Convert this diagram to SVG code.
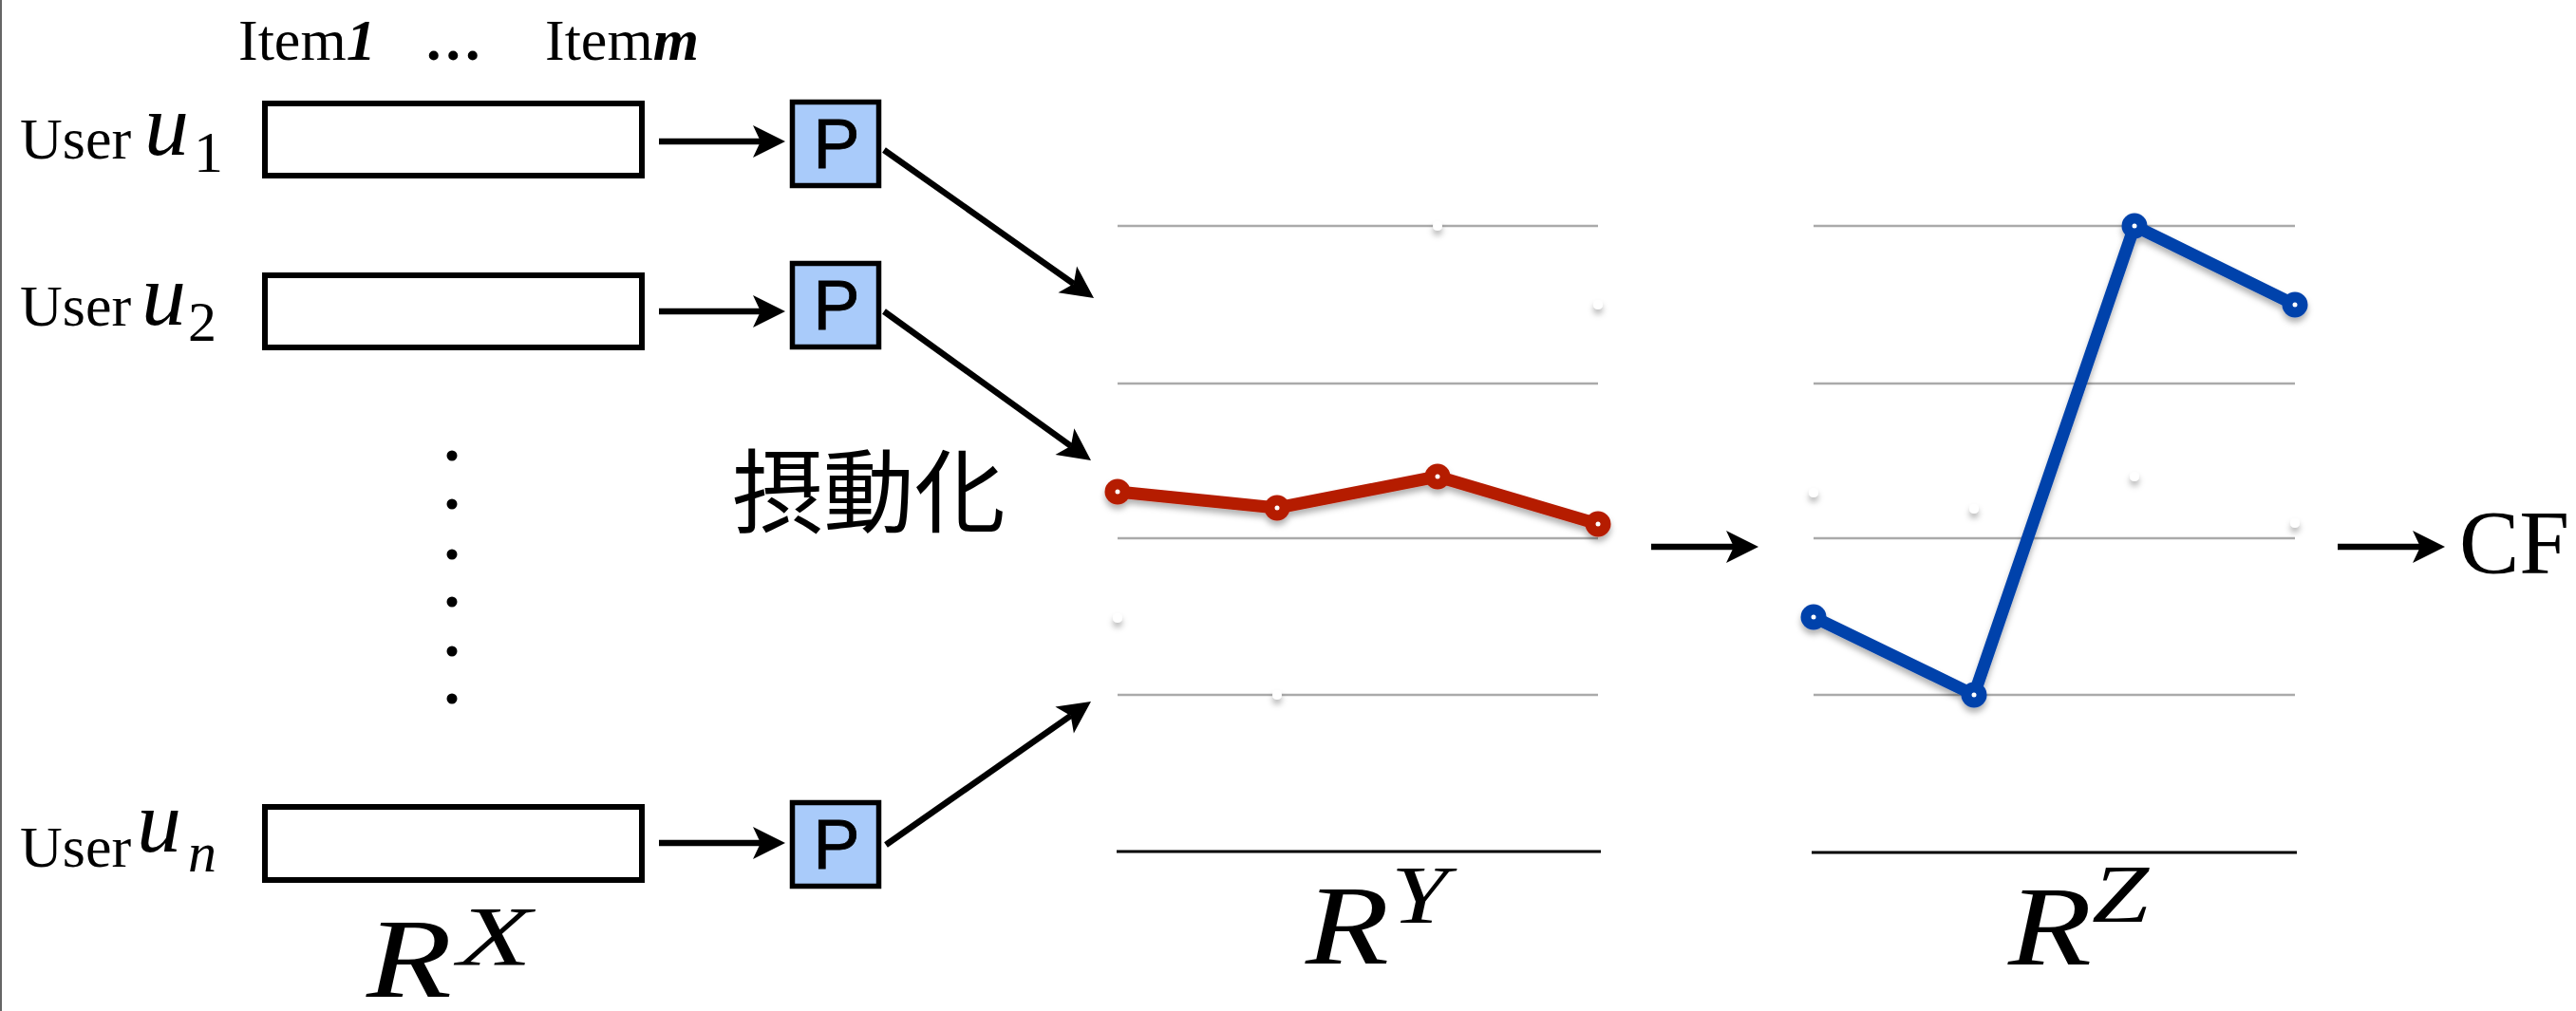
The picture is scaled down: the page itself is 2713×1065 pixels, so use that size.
<svg xmlns="http://www.w3.org/2000/svg" width="2713" height="1065" viewBox="0 0 2713 1065">
<style>
.serif{font-family:"Liberation Serif","Times New Roman",serif;fill:#000}
.it{font-style:italic}
.bi{font-style:italic;font-weight:bold}
.row{fill:#fff;stroke:#000;stroke-width:6}
.pbox{fill:#A9CBFA;stroke:#000;stroke-width:5.5}
.ptxt{font-family:"Liberation Sans",Arial,sans-serif;font-size:74px;fill:#000;text-anchor:middle;stroke:#000;stroke-width:0.8}
.conn{stroke:#000;stroke-width:6.5;fill:none;marker-end:url(#ah)}
.grid{stroke:#AAAAAA;stroke-width:2.5}
.axis{stroke:#000;stroke-width:3}
.wdot{fill:#fff}
.red{stroke:#B51C00;stroke-width:13;fill:none;stroke-linejoin:round}
.redm{fill:#B51C00}
.blue{stroke:#0043AB;stroke-width:13;fill:none;stroke-linejoin:round}
.bluem{fill:#0043AB}
.cdot{fill:#fff}
</style>
<defs>
<marker id="ah" markerUnits="userSpaceOnUse" markerWidth="40" markerHeight="40" viewBox="-2 -20 40 40" refX="8" refY="0" orient="auto">
<path d="M0,-17 L34,0 L0,17 L8,0 Z" fill="#000"/>
</marker>
<filter id="sh" x="-30%" y="-30%" width="160%" height="180%">
<feDropShadow dx="0" dy="5" stdDeviation="3" flood-color="#000" flood-opacity="0.3"/>
</filter>
</defs>
<rect x="0" y="0" width="2713" height="1065" fill="#fff"/>
<line x1="1" y1="0" x2="1" y2="1065" stroke="#666" stroke-width="2"/>

<g id="header">
<text class="serif" x="251" y="63" font-size="62">Item<tspan class="bi">1</tspan></text>
<text class="serif" x="449" y="63" font-size="62" font-weight="bold" letter-spacing="5">...</text>
<text class="serif" x="574" y="63" font-size="62">Item<tspan class="bi">m</tspan></text>
</g>

<g id="user1">
<text class="serif" x="21" y="167" font-size="62">User</text>
<text class="serif it" x="152" y="163" font-size="94">u</text>
<text class="serif" x="204" y="181" font-size="62">1</text>
<rect class="row" x="279" y="109" width="397" height="76"/>
</g>
<g id="user2">
<text class="serif" x="21" y="343" font-size="62">User</text>
<text class="serif it" x="149" y="342" font-size="94">u</text>
<text class="serif" x="198" y="359" font-size="60">2</text>
<rect class="row" x="279" y="290" width="397" height="76"/>
</g>
<g id="dots">
<circle cx="476" cy="480" r="5.5"/>
<circle cx="476" cy="531" r="5.5"/>
<circle cx="476" cy="584" r="5.5"/>
<circle cx="476" cy="634" r="5.5"/>
<circle cx="476" cy="686" r="5.5"/>
<circle cx="476" cy="736" r="5.5"/>
</g>
<g id="usern">
<text class="serif" x="21" y="913" font-size="62">User</text>
<text class="serif it" x="144" y="897" font-size="94">u</text>
<text class="serif it" x="198" y="918" font-size="60">n</text>
<rect class="row" x="279" y="850" width="397" height="77"/>
</g>
<g id="RX">
<text class="serif it" x="386" y="1050" font-size="118" textLength="90" lengthAdjust="spacingAndGlyphs">R</text>
<text class="serif it" x="482" y="1016" font-size="88" textLength="78" lengthAdjust="spacingAndGlyphs">X</text>
</g>

<g id="p1">
<rect class="pbox" x="834.5" y="107.5" width="91" height="88"/>
<text class="ptxt" x="881" y="177">P</text>
</g>
<g id="p2">
<rect class="pbox" x="834.5" y="277.5" width="91" height="88"/>
<text class="ptxt" x="881" y="347">P</text>
</g>
<g id="pn">
<rect class="pbox" x="834.5" y="845.5" width="91" height="88"/>
<text class="ptxt" x="881" y="915">P</text>
</g>

<g id="label-perturb">
<text x="771" y="553" font-family="'Noto Sans CJK JP','Noto Sans CJK SC',sans-serif" font-size="96" fill="#000">摂動化</text>
</g>

<g id="chartY">
<line class="grid" x1="1177" y1="238" x2="1683" y2="238"/>
<line class="grid" x1="1177" y1="404" x2="1683" y2="404"/>
<line class="grid" x1="1177" y1="567" x2="1683" y2="567"/>
<line class="grid" x1="1177" y1="732" x2="1683" y2="732"/>
<line class="axis" x1="1176" y1="897" x2="1686" y2="897"/>
<g filter="url(#sh)">
<circle class="wdot" cx="1514" cy="238" r="5"/>
<circle class="wdot" cx="1683" cy="321" r="5"/>
<circle class="wdot" cx="1177" cy="651" r="5"/>
<circle class="wdot" cx="1345" cy="732" r="5"/>
</g>
<g filter="url(#sh)">
<polyline class="red" points="1177,518 1345,535 1514,502 1683,552"/>
<circle class="redm" cx="1177" cy="518" r="13.5"/>
<circle class="redm" cx="1345" cy="535" r="13.5"/>
<circle class="redm" cx="1514" cy="502" r="13.5"/>
<circle class="redm" cx="1683" cy="552" r="13.5"/>
</g>
<circle class="cdot" cx="1177" cy="518" r="2.5"/>
<circle class="cdot" cx="1345" cy="535" r="2.5"/>
<circle class="cdot" cx="1514" cy="502" r="2.5"/>
<circle class="cdot" cx="1683" cy="552" r="2.5"/>
<text class="serif it" x="1375" y="1015" font-size="118" textLength="88" lengthAdjust="spacingAndGlyphs">R</text>
<text class="serif it" x="1465" y="972" font-size="86" textLength="60" lengthAdjust="spacingAndGlyphs">Y</text>
</g>

<g id="chartZ">
<line class="grid" x1="1910" y1="238" x2="2417" y2="238"/>
<line class="grid" x1="1910" y1="404" x2="2417" y2="404"/>
<line class="grid" x1="1910" y1="567" x2="2417" y2="567"/>
<line class="grid" x1="1910" y1="732" x2="2417" y2="732"/>
<line class="axis" x1="1908" y1="898" x2="2419" y2="898"/>
<g filter="url(#sh)">
<circle class="wdot" cx="1910" cy="519" r="5"/>
<circle class="wdot" cx="2079" cy="536" r="5"/>
<circle class="wdot" cx="2248" cy="502" r="5"/>
<circle class="wdot" cx="2417" cy="551" r="5"/>
</g>
<g filter="url(#sh)">
<polyline class="blue" points="1910,650 2079,732 2248,238 2417,321"/>
<circle class="bluem" cx="1910" cy="650" r="13.5"/>
<circle class="bluem" cx="2079" cy="732" r="13.5"/>
<circle class="bluem" cx="2248" cy="238" r="13.5"/>
<circle class="bluem" cx="2417" cy="321" r="13.5"/>
</g>
<circle class="cdot" cx="1910" cy="650" r="2.5"/>
<circle class="cdot" cx="2079" cy="732" r="2.5"/>
<circle class="cdot" cx="2248" cy="238" r="2.5"/>
<circle class="cdot" cx="2417" cy="321" r="2.5"/>
<text class="serif it" x="2115" y="1016" font-size="118" textLength="88" lengthAdjust="spacingAndGlyphs">R</text>
<text class="serif it" x="2203" y="971" font-size="86" textLength="60" lengthAdjust="spacingAndGlyphs">Z</text>
</g>

<g id="cf">
<text class="serif" x="2590" y="604" font-size="95">CF</text>
</g>

<g id="connectors">
<line class="conn" x1="694" y1="149" x2="801" y2="149"/>
<line class="conn" x1="694" y1="328" x2="801" y2="328"/>
<line class="conn" x1="694" y1="888" x2="801" y2="888"/>
<line class="conn" x1="931" y1="158" x2="1130.8" y2="299"/>
<line class="conn" x1="931" y1="328" x2="1127.9" y2="469.8"/>
<line class="conn" x1="933" y1="890" x2="1127.7" y2="753.9"/>
<line class="conn" x1="1739" y1="576" x2="1826" y2="576"/>
<line class="conn" x1="2462" y1="576" x2="2549" y2="576"/>
</g>
</svg>
